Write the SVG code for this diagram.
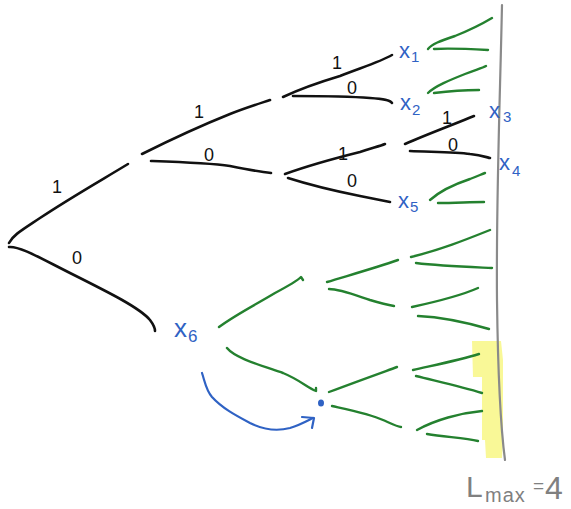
<svg xmlns="http://www.w3.org/2000/svg" width="571" height="509" viewBox="0 0 571 509">
<style>
.b{fill:none;stroke:#111;stroke-width:2.6;stroke-linecap:round;stroke-linejoin:round}
.g{fill:none;stroke:#24812f;stroke-width:2.4;stroke-linecap:round;stroke-linejoin:round}
.bl{fill:none;stroke:#2f62c4;stroke-width:2.2;stroke-linecap:round;stroke-linejoin:round}
.lbl{font-family:"Liberation Sans","DejaVu Sans",sans-serif;font-size:18px;fill:#111;text-anchor:middle}
.x{font-family:"Liberation Sans","DejaVu Sans",sans-serif;font-size:22px;fill:#2f62c4}
.sub{font-size:15px}
.gr{font-family:"Liberation Sans","DejaVu Sans",sans-serif;fill:#808080}
</style>
<rect width="571" height="509" fill="#fff"/>
<path d="M472,341 L501,341 L503,360 L503,440 L502,458 L486,458 L485,440 L482,440 L482,377 L473,377 Z" fill="#f8f78c" opacity="0.9"/>
<path d="M502,5 C500,100 496,200 497,300 C498,380 501,430 505,460" fill="none" stroke="#8a8a8a" stroke-width="2.2" stroke-linecap="round"/>
<g id="connectors">
<path class="b" d="M9,243 C13,235 22,230 40,218 C70,198 100,181 128,164"/>
<path class="b" d="M9,247 C20,246 40,258 70,273 C110,293 140,308 150,320 C153,324 155,327 155,331"/>
<path class="b" d="M142,154 C170,140 200,126 230,114 C245,108 258,104 270,100"/>
<path class="b" d="M151,161 C180,162 210,163 230,166 C250,170 262,172 271,173"/>
<path class="b" d="M283,97 C300,89 320,82 340,76 C360,68 380,62 392,55"/>
<path class="b" d="M293,96 C320,96 345,96 370,98 C384,99 390,100 392,103"/>
<path class="b" d="M285,174 C310,165 340,157 360,152 C372,148 380,146 385,144"/>
<path class="b" d="M288,178 C310,185 340,192 360,196 C375,199 385,201 390,202"/>
<path class="b" d="M405,144 C430,133 455,124 474,116"/>
<path class="b" d="M410,151 C430,152 455,152 470,154 C480,155 486,157 490,158"/>
<path class="g" d="M428,49 C432,44 440,41 455,36 C470,30 482,24 492,18"/>
<path class="g" d="M434,49 C450,48 470,49 488,50"/>
<path class="g" d="M428,93 C435,86 450,80 465,74 C475,70 482,68 486,66"/>
<path class="g" d="M434,93 C450,91 465,90 479,90"/>
<path class="g" d="M430,200 C440,191 455,184 470,179 C478,176 482,174 485,173"/>
<path class="g" d="M438,203 C455,203 470,202 484,202"/>
<path class="g" d="M219,327 C235,315 255,305 275,293 C290,285 298,280 301,277 L303,280"/>
<path class="g" d="M227,348 C235,358 260,365 283,373 C300,380 308,388 316,391 L316,388"/>
<path class="g" d="M327,282 C350,275 375,268 398,260"/>
<path class="g" d="M329,289 C340,289 355,295 370,300 C380,303 388,305 394,306"/>
<path class="g" d="M411,257 C440,250 465,240 490,230"/>
<path class="g" d="M416,263 C440,266 470,267 492,268"/>
<path class="g" d="M412,307 C435,302 460,296 478,288"/>
<path class="g" d="M418,316 C440,317 465,322 489,329"/>
<path class="g" d="M329,392 C350,384 375,375 397,367"/>
<path class="g" d="M332,406 C350,410 370,414 383,420 C392,424 398,427 401,427"/>
<path class="g" d="M413,370 C435,365 460,360 479,354"/>
<path class="g" d="M416,376 C440,382 462,387 482,393"/>
<path class="g" d="M417,430 C435,420 460,413 482,411"/>
<path class="g" d="M427,434 C445,437 465,438 478,441"/>
<path class="bl" d="M202,373 C205,382 206,390 212,397 C222,408 235,415 250,423 C262,429 275,432 290,428 C300,425 307,421 313,418"/>
<path class="bl" d="M302,417 L314,418 L312,428"/>
</g>
<g id="edge-labels">
<text class="lbl" x="57" y="193">1</text>
<text class="lbl" x="77" y="264">0</text>
<text class="lbl" x="199" y="118">1</text>
<text class="lbl" x="209" y="161">0</text>
<text class="lbl" x="337" y="69">1</text>
<text class="lbl" x="352" y="94">0</text>
<text class="lbl" x="343" y="160">1</text>
<text class="lbl" x="352" y="187">0</text>
<text class="lbl" x="447" y="124">1</text>
<text class="lbl" x="453" y="151">0</text>
</g>
<g id="x1"><text class="x" x="399" y="58">x<tspan class="sub" dx="1" dy="4">1</tspan></text></g>
<g id="x2"><text class="x" x="400" y="110">x<tspan class="sub" dx="1" dy="5">2</tspan></text></g>
<g id="x3"><text class="x" x="489" y="118">x<tspan class="sub" dx="3" dy="4">3</tspan></text></g>
<g id="x4"><text class="x" x="499" y="170">x<tspan class="sub" dx="2" dy="6">4</tspan></text></g>
<g id="x5"><text class="x" x="398" y="208">x<tspan class="sub" dx="1" dy="4">5</tspan></text></g>
<g id="x6"><text class="x" x="174" y="337" style="font-size:26px">x<tspan class="sub" dx="1" dy="5" style="font-size:17px">6</tspan></text></g>
<g id="dot"><ellipse cx="321" cy="403" rx="3" ry="3.5" fill="#2f62c4"/></g>
<g id="lmax">
<text class="gr" x="466" y="497" style="font-size:30px">L</text>
<text class="gr" x="485" y="502" style="font-size:20px;letter-spacing:1px">max</text>
<text class="gr" x="533" y="492" style="font-size:19px">=</text>
<text class="gr" x="545" y="499" style="font-size:32px">4</text>
</g>
</svg>
